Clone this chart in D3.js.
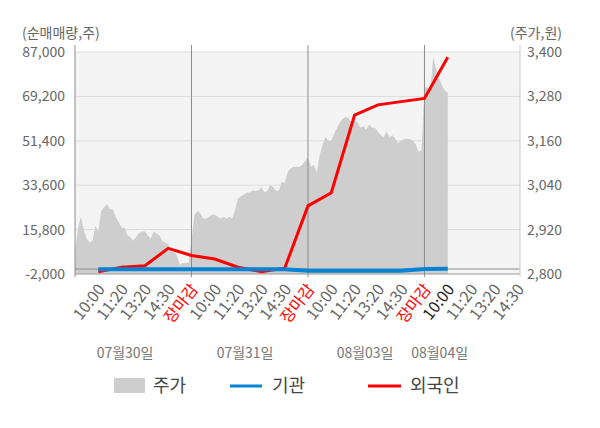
<!DOCTYPE html>
<html>
<head>
<meta charset="utf-8">
<script src="https://cdn.jsdelivr.net/npm/d3@7"></script>
<style>
  body { margin: 0; background: #fff; }
  text { font-family: "Noto Sans CJK KR", "Noto Sans", sans-serif; }
</style>
</head>
<body>
<div id="chart"></div>
<script>
// day / slot labels
const dayLabels = ["07월30일", "07월31일", "08월03일", "08월04일"];
const slotLabels = ["10:00", "11:20", "13:20", "14:30", "장마감"];
const dateCenters = [2.15, 7.3, 12.45, 15.65];

// price (주가, 원), 8 samples per slot
const price0730 = [2860, 2920, 2955, 2920, 2895, 2885, 2890, 2930, 2915, 2970,
                   2980, 2990, 2975, 2975, 2955, 2940, 2925, 2925, 2905, 2900,
                   2890, 2900, 2910, 2915, 2915, 2905, 2895, 2915, 2910, 2905,
                   2890, 2885, 2880, 2860, 2860, 2850, 2825, 2830, 2830, 2830];
const price0731 = [2890, 2960, 2970, 2965, 2950, 2950, 2955, 2960, 2960, 2955,
                   2950, 2955, 2950, 2955, 2950, 2975, 3005, 3010, 3015, 3020,
                   3020, 3025, 3025, 3025, 3035, 3020, 3025, 3040, 3035, 3025,
                   3025, 3050, 3045, 3075, 3085, 3090, 3090, 3090, 3095, 3105];
const price0803 = [3115, 3090, 3095, 3075, 3120, 3150, 3170, 3160, 3160, 3180,
                   3195, 3210, 3220, 3225, 3220, 3210, 3215, 3210, 3195, 3200,
                   3190, 3205, 3195, 3195, 3185, 3175, 3170, 3185, 3170, 3175,
                   3165, 3155, 3160, 3165, 3165, 3165, 3160, 3150, 3130, 3135];
const price0804 = [3305, 3305, 3295, 3385, 3355, 3330, 3310, 3295, 3290];
const priceDays = [price0730, price0731, price0803, price0804];

// 순매매량 (주), one value per slot from 07/30 10:00
const institution = [-100, -100, -100, -100, -100, -100, -100, -100, -100,
                     -700, -700, -700, -700, -700, 0, 100];
const foreign = [-1100, 700, 1300, 8300, 5400, 4000, 700, -1100, 300,
                 25300, 30600, 61700, 65800, 67100, 68400, 84900];

const leftTicks = [87000, 69200, 51400, 33600, 15800, -2000];
const rightTicks = [3400, 3280, 3160, 3040, 2920, 2800];

const width = 600, height = 428;
const plotL = 75, plotR = 520, plotT = 52, plotB = 274;

const svg = d3.select("#chart").append("svg")
    .attr("width", width)
    .attr("height", height);

const x = d3.scaleLinear().domain([0, 19.1]).range([plotL, plotR]);
const yFlow = d3.scaleLinear().domain([-2000, 87000]).range([plotB, plotT]);
const yPrice = d3.scaleLinear().domain([2800, 3400]).range([plotB, plotT]);

const fmt = v => d3.format(",")(v).replace("\u2212", "-");

// plot background
svg.append("rect")
    .attr("x", plotL).attr("y", plotT)
    .attr("width", plotR - plotL).attr("height", plotB - plotT)
    .attr("fill", "#f4f4f4");

// grid
svg.append("g").selectAll("line")
    .data(leftTicks.slice(0, -1))
    .enter().append("line")
    .attr("x1", plotL).attr("x2", plotR)
    .attr("y1", d => yFlow(d)).attr("y2", d => yFlow(d))
    .attr("stroke", "#dcdcdc");

// price area
const pricePoints = [];
priceDays.forEach((arr, d) => {
    arr.forEach((v, i) => pricePoints.push({ s: d * 5 + i / 8, v: v }));
});
const area = d3.area()
    .x(d => x(d.s))
    .y0(plotB)
    .y1(d => yPrice(d.v));
svg.append("path")
    .datum(pricePoints)
    .attr("d", area)
    .attr("fill", "#cecece");

// zero line
svg.append("line")
    .attr("x1", plotL).attr("x2", plotR)
    .attr("y1", yFlow(0)).attr("y2", yFlow(0))
    .attr("stroke", "#8c8c8c");

// axis lines
svg.append("line")
    .attr("x1", plotL).attr("x2", plotR)
    .attr("y1", plotB).attr("y2", plotB)
    .attr("stroke", "#999");
svg.append("line")
    .attr("x1", plotR).attr("x2", plotR)
    .attr("y1", 45).attr("y2", 277)
    .attr("stroke", "#ccc");
svg.append("g").selectAll("line")
    .data([0, 5, 10, 15])
    .enter().append("line")
    .attr("x1", d => x(d)).attr("x2", d => x(d))
    .attr("y1", 45).attr("y2", 277)
    .attr("stroke", "#8c8c8c");

// flow lines
const line = d3.line()
    .x((d, i) => x(i + 1))
    .y(d => yFlow(d));
svg.append("path")
    .datum(foreign)
    .attr("d", line)
    .attr("fill", "none")
    .attr("stroke", "#ff0000")
    .attr("stroke-width", 3);
svg.append("path")
    .datum(institution)
    .attr("d", line)
    .attr("fill", "none")
    .attr("stroke", "#0683d4")
    .attr("stroke-width", 4);

// y tick labels
svg.append("g").selectAll("text")
    .data(leftTicks)
    .enter().append("text")
    .attr("x", 65).attr("y", d => yFlow(d))
    .attr("dy", "0.35em")
    .attr("text-anchor", "end")
    .attr("font-size", 14)
    .attr("fill", "#666")
    .text(fmt);
svg.append("g").selectAll("text")
    .data(rightTicks)
    .enter().append("text")
    .attr("x", 527).attr("y", d => yPrice(d))
    .attr("dy", "0.35em")
    .attr("font-size", 14)
    .attr("fill", "#666")
    .text(fmt);

svg.append("text")
    .attr("x", 22).attr("y", 38)
    .attr("font-size", 14).attr("fill", "#666")
    .text("(순매매량,주)");
svg.append("text")
    .attr("x", 562).attr("y", 38)
    .attr("text-anchor", "end")
    .attr("font-size", 14).attr("fill", "#666")
    .text("(주가,원)");

// x tick labels
const xTicks = [];
dayLabels.forEach((day, d) => {
    slotLabels.forEach((lab, k) => {
        const s = d * 5 + k + 1;
        if (s <= 19) xTicks.push({ s: s, label: lab, day: d });
    });
});
svg.append("g").selectAll("text")
    .data(xTicks)
    .enter().append("text")
    .attr("transform", d => `translate(${x(d.s) + 3},${286}) rotate(-52)`)
    .attr("dy", "0.35em")
    .attr("text-anchor", "end")
    .attr("font-size", 16)
    .attr("fill", d => d.label === "장마감" ? "#ff0000" : (d.s === 16 ? "#222" : "#666"))
    .text(d => d.label);

// date labels
svg.append("g").selectAll("text")
    .data(dayLabels)
    .enter().append("text")
    .attr("x", (d, i) => x(dateCenters[i]))
    .attr("y", 358)
    .attr("text-anchor", "middle")
    .attr("font-size", 14)
    .attr("fill", "#777")
    .text(d => d);

// legend
const legend = svg.append("g").attr("transform", "translate(0,386)");
legend.append("rect")
    .attr("x", 114).attr("y", -8).attr("width", 31).attr("height", 15)
    .attr("fill", "#cecece");
legend.append("text").attr("x", 153).attr("y", 0).attr("dy", "0.35em")
    .attr("font-size", 18).attr("fill", "#444").text("주가");
legend.append("line")
    .attr("x1", 230).attr("x2", 262).attr("y1", 0).attr("y2", 0)
    .attr("stroke", "#0683d4").attr("stroke-width", 3);
legend.append("text").attr("x", 272).attr("y", 0).attr("dy", "0.35em")
    .attr("font-size", 18).attr("fill", "#444").text("기관");
legend.append("line")
    .attr("x1", 368).attr("x2", 401).attr("y1", 0).attr("y2", 0)
    .attr("stroke", "#ff0000").attr("stroke-width", 3);
legend.append("text").attr("x", 410).attr("y", 0).attr("dy", "0.35em")
    .attr("font-size", 18).attr("fill", "#444").text("외국인");
</script>
</body>
</html>
